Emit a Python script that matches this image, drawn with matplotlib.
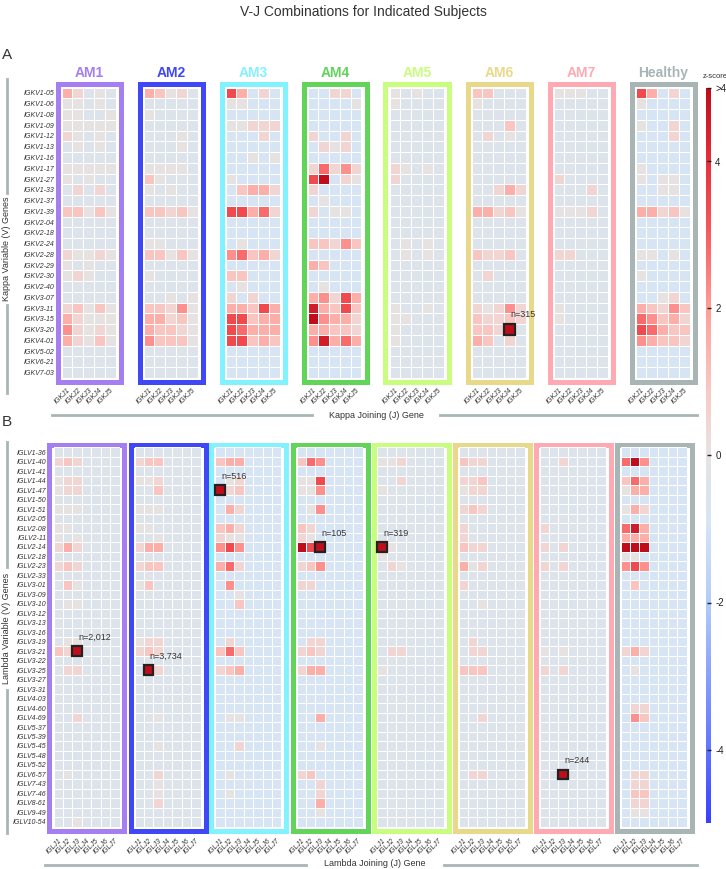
import numpy as np
import matplotlib
matplotlib.use("Agg")
import matplotlib.pyplot as plt
from matplotlib.colors import LinearSegmentedColormap, Normalize
from matplotlib.patches import Rectangle
from matplotlib.lines import Line2D
from matplotlib.cm import ScalarMappable

plt.rcParams["font.family"] = ["Liberation Sans", "DejaVu Sans"]

W, H = 726, 869
fig = plt.figure(figsize=(W / 100, H / 100), dpi=100)

subjects = ["AM1", "AM2", "AM3", "AM4", "AM5", "AM6", "AM7", "Healthy"]
subject_colors = ["#a57ff2", "#3f47f7", "#82f2ff", "#62d45a", "#c9fd7f",
                  "#e8d88a", "#ffaab2", "#a9b5b5"]

kappa_v = ["IGKV1-05", "IGKV1-06", "IGKV1-08", "IGKV1-09", "IGKV1-12", "IGKV1-13",
           "IGKV1-16", "IGKV1-17", "IGKV1-27", "IGKV1-33", "IGKV1-37", "IGKV1-39",
           "IGKV2-04", "IGKV2-18", "IGKV2-24", "IGKV2-28", "IGKV2-29", "IGKV2-30",
           "IGKV2-40", "IGKV3-07", "IGKV3-11", "IGKV3-15", "IGKV3-20", "IGKV4-01",
           "IGKV5-02", "IGKV6-21", "IGKV7-03"]
kappa_j = ["IGKJ1", "IGKJ2", "IGKJ3", "IGKJ4", "IGKJ5"]

lambda_v = ["IGLV1-36", "IGLV1-40", "IGLV1-41", "IGLV1-44", "IGLV1-47", "IGLV1-50",
            "IGLV1-51", "IGLV2-05", "IGLV2-08", "IGLV2-11", "IGLV2-14", "IGLV2-18",
            "IGLV2-23", "IGLV2-33", "IGLV3-01", "IGLV3-09", "IGLV3-10", "IGLV3-12",
            "IGLV3-13", "IGLV3-16", "IGLV3-19", "IGLV3-21", "IGLV3-22", "IGLV3-25",
            "IGLV3-27", "IGLV3-31", "IGLV4-03", "IGLV4-60", "IGLV4-69", "IGLV5-37",
            "IGLV5-39", "IGLV5-45", "IGLV5-48", "IGLV5-52", "IGLV6-57", "IGLV7-43",
            "IGLV7-46", "IGLV8-61", "IGLV9-49", "IGLV10-54"]
lambda_j = ["IGLJ1", "IGLJ2", "IGLJ3", "IGLJ4", "IGLJ5", "IGLJ6", "IGLJ7"]

# z-score levels used to read the cells: one character per cell
LEVELS = {"b": -0.9, ".": -0.4, "0": 0.0, "1": 0.5, "2": 1.0, "3": 1.6,
          "4": 2.2, "5": 2.8, "6": 3.4, "7": 4.0, "8": 4.5, "9": 5.0}

kappa_am1 = ["31.0.", "00.0.", "00..0", "00000", "10.0.", ".0.0.", ".....", "00000", "0.0..",
             ".1.1.", ".....", "22020", ".....", ".....", ".....", "10010", "0.0..", "010..",
             ".....", ".....", "12020", "31000", "41010", "31020", ".....", ".....", "....."]
kappa_am2 = ["3201.", ".....", "0....", ".....", "...0.", "...0.", ".....", "0000.", "20...",
             "0.0..", ".....", "22120", ".....", ".....", "00...", "22020", ".....", "0....",
             ".....", "..0.0", "22140", "33120", "32210", "42220", ".....", ".....", "....."]
kappa_am3 = ["63b1b", "00bbb", "bbbbb", "00111", "bbb1b", "bbbbb", "bb0b0", "bbbbb", "0bbbb",
             "b2331", "bbbbb", "66351", "bbbbb", "bbbbb", "b0bbb", "45231", "bbbbb", "22bbb",
             "b0bbb", "1b1bb", "33263", "66233", "65333", "66232", "bbbbb", "bbbbb", "bbbbb"]
kappa_am4 = ["bb11b", "bbbb0", "bbbbb", "bbbbb", "1bb1b", "b101b", "bbbbb", "15141", "69b10",
             "1bbbb", "b0bbb", "1b00b", "bbbbb", "bbbbb", "22142", "bbbbb", "32bbb", "bbbbb",
             "b0bbb", "34163", "83262", "94331", "33221", "48353", "bbbbb", "bbbbb", "bbbbb"]
kappa_am5 = ["0.0..", "0....", ".....", ".....", ".....", ".....", ".....", "10.0.", "1....",
             ".....", ".....", ".....", ".....", ".....", ".0.0.", ".0.0.", ".....", ".....",
             ".....", ".....", "0..0.", "00...", "0....", "0....", ".....", ".....", "....."]
kappa_am6 = ["22...", "0....", ".....", "...2.", ".1.0.", ".....", ".....", ".....", ".....",
             "..131", ".....", "33120", ".....", ".....", ".....", "2112.", ".....", ".1...",
             ".....", ".....", "10141", "21121", "2219.", "32.1.", ".....", ".....", "....."]
kappa_am7 = ["000..", ".....", ".....", ".....", ".....", ".....", ".....", ".....", "1....",
             "...1.", ".....", "0001.", ".....", ".....", ".....", "11...", ".....", ".....",
             ".....", ".....", "0....", "0....", ".....", ".....", ".....", ".....", "....."]
kappa_healthy = ["63b1b", "0bbbb", "bbbbb", "0bb1b", "bbb1b", "bbbbb", "bbbbb", "0bbbb", "0b00b",
                 "bb00b", "bbbbb", "33120", "bbbbb", "bbbbb", "bbbbb", "00b0b", "bbbbb", "0bbbb",
                 "bbbbb", "bb01b", "32142", "54231", "65322", "43221", "bbbbb", "bbbbb", "bbbbb"]

lambda_am1 = [".......", "121....", ".......", "011....", "011....", ".......", "000....", ".......",
              "00.....", "0.0....", "131....", ".......", "121....", ".......", ".20....", ".......",
              ".00....", ".......", ".......", ".......", ".00....", "219....", ".......", ".11....",
              ".......", ".......", ".......", ".......", "..1....", ".......", ".......", ".......",
              ".......", ".......", ".0.....", ".......", ".......", ".......", ".......", "..0...."]
lambda_am2 = [".......", "122....", ".......", "001....", "..2....", ".......", "000....", ".......",
              "00.....", "..0....", "133....", ".......", "122....", ".......", "02.....", ".......",
              ".......", ".......", ".......", ".......", "011....", "121....", ".......", ".91....",
              ".......", ".......", ".......", ".......", "..0....", ".......", ".......", "..0....",
              ".......", ".......", "..1....", "..0....", "..0....", "..1....", ".......", "......."]
lambda_am3 = ["bbbbbbb", "233bbbb", "bbbbbbb", "b01bbbb", "912bbbb", "bbbbbbb", "b31bbbb", "bbbbbbb",
              "231bbbb", "100bbbb", "464bbbb", "bbbbbbb", "351bbbb", "bbbbbbb", "b4bbbbb", "bb0bbbb",
              "bb2bbbb", "bbbbbbb", "bbbbbbb", "bbbbbbb", "b1bbbbb", "252bbbb", "bbbbbbb", "123bbbb",
              "bbbbbbb", "bbbbbbb", "bbbbbbb", "bbbbbbb", "b00bbbb", "bbbbbbb", "bbbbbbb", "bb1bbbb",
              "bbbbbbb", "bbbbbbb", "b0bbbbb", "bbbbbbb", "b0bbbbb", "bbbbbbb", "bbbbbbb", "bbbbbbb"]
lambda_am4 = ["bbbbbbb", "254bbbb", "bbbbbbb", "006bbbb", "004bbbb", "bbbbbbb", "b04bbbb", "bbbbbbb",
              "21bbbbb", "10bbbbb", "969bbbb", "bbbbbbb", "124bbbb", "bbbbbbb", "11bbbbb", "bbbbbbb",
              "bbbbbbb", "bbbbbbb", "bbbbbbb", "bbbbbbb", "b11bbbb", "121bbbb", "bbbbbbb", "133bbbb",
              "bbbbbbb", "bbbbbbb", "bbbbbbb", "bbbbbbb", "bb3bbbb", "bbbbbbb", "bbbbbbb", "bb0bbbb",
              "bbbbbbb", "bbbbbbb", "12bbbbb", "bb1bbbb", "bb1bbbb", "bb3bbbb", "bb0bbbb", "bbbbbbb"]
lambda_am5 = [".......", "001....", ".......", "..1....", "0......", ".......", ".......", ".......",
              ".......", ".......", "90.....", "0......", ".10....", ".......", ".......", ".......",
              ".......", ".......", ".......", ".......", ".......", ".11....", ".......", "0......",
              ".......", ".......", ".......", ".......", ".......", ".......", ".......", ".......",
              ".......", ".......", ".......", ".......", ".......", ".......", ".......", "......."]
lambda_am6 = [".......", "211....", ".......", "112....", "011....", ".......", "121....", ".......",
              "1......", "1......", "211....", ".......", "301....", ".......", "1......", ".......",
              "..0....", ".......", ".......", ".......", ".1.....", ".11....", ".......", "222....",
              ".......", ".......", ".......", ".......", "..1....", ".......", ".......", ".......",
              ".......", ".......", ".11....", ".......", ".......", ".......", ".......", "......."]
lambda_am7 = [".......", "..1....", ".......", ".......", ".......", ".......", ".......", ".......",
              "1......", ".......", "1.1....", ".......", "1.1....", ".......", ".......", ".......",
              ".......", ".......", ".......", ".......", ".......", "0.0....", ".......", "1.1....",
              ".......", ".......", ".......", ".......", ".......", ".......", ".......", ".......",
              ".......", ".......", "..9....", ".......", ".......", ".......", ".......", "......."]
lambda_healthy = ["bbbbbbb", "594bbbb", "bbbbbbb", "253bbbb", "033bbbb", "bbbbbbb", "031bbbb", "bbbbbbb",
                  "583bbbb", "333bbbb", "999bbbb", "00bbbbb", "464bbbb", "bbbbbbb", "b2bbbbb", "bbbbbbb",
                  "bbbbbbb", "bbbbbbb", "bbbbbbb", "bbbbbbb", "bbbbbbb", "131bbbb", "bbbbbbb", "b0bbbbb",
                  "bbbbbbb", "bbbbbbb", "bbbbbbb", "b11bbbb", "b42bbbb", "bbbbbbb", "bbbbbbb", "bbbbbbb",
                  "bbbbbbb", "bbbbbbb", "b11bbbb", "b11bbbb", "b22bbbb", "b11bbbb", "b00bbbb", "bbbbbbb"]

kappa_data = [kappa_am1, kappa_am2, kappa_am3, kappa_am4, kappa_am5, kappa_am6, kappa_am7, kappa_healthy]
lambda_data = [lambda_am1, lambda_am2, lambda_am3, lambda_am4, lambda_am5, lambda_am6, lambda_am7, lambda_healthy]

# top clonotype per subject (subject, V, J, count)
kappa_hits = [("AM6", "IGKV3-20", "IGKJ4", 315)]
lambda_hits = [("AM1", "IGLV3-21", "IGLJ3", 2012), ("AM2", "IGLV3-25", "IGLJ2", 3734),
               ("AM3", "IGLV1-47", "IGLJ1", 516), ("AM4", "IGLV2-14", "IGLJ3", 105),
               ("AM5", "IGLV2-14", "IGLJ1", 319), ("AM7", "IGLV6-57", "IGLJ3", 244)]

cmap = LinearSegmentedColormap.from_list("zs", [
    (0.00, "#3b3fff"), (0.10, "#6373ff"), (0.30, "#b2cbf8"), (0.41, "#d7e4f4"),
    (0.46, "#dde3ea"), (0.50, "#e6e3e3"), (0.55, "#f1d5d2"), (0.60, "#f8c5c0"),
    (0.70, "#ff9e98"), (0.80, "#f75d5f"), (0.90, "#e6303a"), (1.00, "#bf0d1b")])
norm = Normalize(-5, 5)


def fx(x):
    return x / W


def fy(y):
    return 1 - y / H


def add_frame(x0, y0, x1, y1, color):
    lw_px = 5
    r = Rectangle((fx(x0 + lw_px / 2), fy(y1 - lw_px / 2)), (x1 - x0 - lw_px) / W,
                  (y1 - y0 - lw_px) / H, transform=fig.transFigure, fill=False,
                  edgecolor=color, linewidth=lw_px * 0.72, zorder=-1)
    fig.add_artist(r)


def draw_heat(rows, left, top, width, height, jlabels, vlabels, show_v, xpad, ypad):
    ax = fig.add_axes([fx(left), fy(top + height), width / W, height / H])
    z = np.array([[LEVELS[c] for c in r] for r in rows])
    ax.pcolormesh(z, cmap=cmap, norm=norm, edgecolors="white", linewidth=0.6)
    ax.set_xlim(0, z.shape[1])
    ax.set_ylim(z.shape[0], 0)
    ax.set_xticks(np.arange(z.shape[1]) + 0.5)
    ax.set_xticklabels(jlabels, rotation=45, ha="right", rotation_mode="anchor",
                       fontsize=5, style="italic", color="#333333")
    ax.set_yticks(np.arange(z.shape[0]) + 0.5)
    if show_v:
        ax.set_yticklabels(vlabels, fontsize=5, style="italic", color="#333333")
    else:
        ax.set_yticklabels([])
    ax.tick_params(length=0)
    ax.tick_params(axis="x", pad=xpad)
    ax.tick_params(axis="y", pad=ypad)
    for s in ax.spines.values():
        s.set_visible(False)
    return ax


def mark_hit(ax, row, col, n):
    ax.add_patch(Rectangle((col, row), 1, 1, facecolor=cmap(norm(5)),
                           edgecolor="#222222", linewidth=1.6, clip_on=False, zorder=5))
    ax.text(col + 0.6, row - 0.45, f"n={n:,}", fontsize=6.5, color="#333333",
            ha="left", va="bottom", zorder=6)


# ---- panel A: kappa
k_axes = []
for i, name in enumerate(subjects):
    left = 55 + 82 * i
    add_frame(left, 82, left + 68, 385, subject_colors[i])
    ax = draw_heat(kappa_data[i], left + 6.5, 87.6, 54, 290.4, kappa_j, kappa_v,
                   i == 0, 6, 5.4)
    k_axes.append(ax)
    fig.text(fx(left + 34), fy(73), name, color=subject_colors[i], fontsize=10,
             fontweight="bold", ha="center", va="center")

for s, v, j, n in kappa_hits:
    mark_hit(k_axes[subjects.index(s)], kappa_v.index(v), kappa_j.index(j), n)

# ---- panel B: lambda
l_axes = []
for i, name in enumerate(subjects):
    left = 47 + 81 * i
    add_frame(left, 442, left + 80, 833, subject_colors[i])
    ax = draw_heat(lambda_data[i], left + 6.5, 447.5, 66, 379, lambda_j, lambda_v,
                   i == 0, 8, 5)
    l_axes.append(ax)

for s, v, j, n in lambda_hits:
    mark_hit(l_axes[subjects.index(s)], lambda_v.index(v), lambda_j.index(j), n)

# ---- axis titles with grey rules
grey = "#a9b5b5"


def vline(x, y0, y1):
    fig.add_artist(Line2D([fx(x), fx(x)], [fy(y0), fy(y1)], color=grey, lw=2,
                          transform=fig.transFigure))


def hline(y, x0, x1):
    fig.add_artist(Line2D([fx(x0), fx(x1)], [fy(y), fy(y)], color=grey, lw=2,
                          transform=fig.transFigure))


vline(7, 79, 193)
vline(7, 305, 393)
fig.text(fx(7), fy(249), "Kappa Variable (V) Genes", rotation=90, fontsize=6.5,
         ha="center", va="center", color="#333333")
vline(7, 442, 567)
vline(7, 690, 833)
fig.text(fx(7), fy(628), "Lambda Variable (V) Genes", rotation=90, fontsize=6.5,
         ha="center", va="center", color="#333333")

hline(415, 52, 312)
hline(415, 440, 697)
fig.text(fx(376), fy(415), "Kappa Joining (J) Gene", fontsize=6.5,
         ha="center", va="center", color="#333333")
hline(865, 45, 306)
hline(865, 444, 697)
fig.text(fx(375), fy(864), "Lambda Joining (J) Gene", fontsize=6.5,
         ha="center", va="center", color="#333333")

fig.text(0.5, fy(12), "V-J Combinations for Indicated Subjects", fontsize=10,
         ha="center", va="center", color="#333333")
fig.text(fx(2), fy(55), "A", fontsize=11, ha="left", va="center", color="#333333")
fig.text(fx(2), fy(422), "B", fontsize=11, ha="left", va="center", color="#333333")

# ---- colour bar
cax = fig.add_axes([fx(706), fy(823), 5 / W, 735 / H])
cb = fig.colorbar(ScalarMappable(norm=norm, cmap=cmap), cax=cax)
cb.outline.set_visible(False)
cb.set_ticks([-4, -2, 0, 2, 4, 5])
cb.set_ticklabels(["-4", "-2", "0", "2", "4", ">4"])
cax.tick_params(length=3, width=1, direction="in", labelsize=7, pad=3, colors="#222222")
fig.text(fx(715), fy(76), "z-score", fontsize=5.5, ha="center", va="center", color="#333333")

fig.savefig("out.png", dpi=100)
